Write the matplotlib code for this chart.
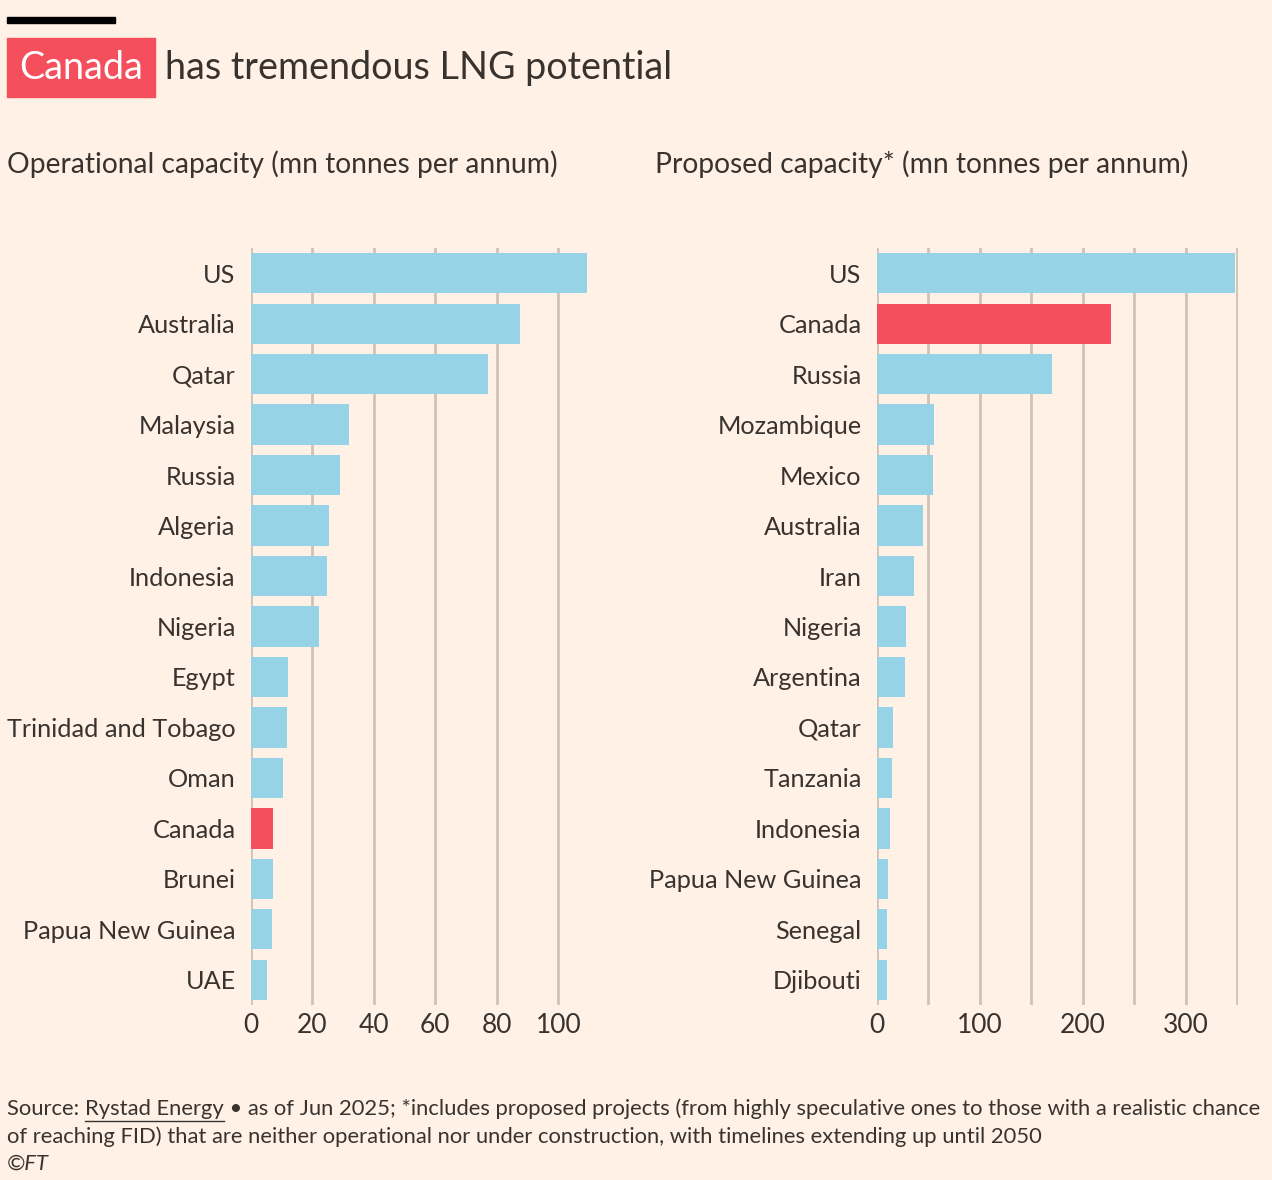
import matplotlib
matplotlib.use("Agg")
import matplotlib.pyplot as plt
from matplotlib.patches import Rectangle
from matplotlib.lines import Line2D

# ====== DATA ======
op_countries = ["US", "Australia", "Qatar", "Malaysia", "Russia", "Algeria", "Indonesia",
                "Nigeria", "Egypt", "Trinidad and Tobago", "Oman", "Canada", "Brunei",
                "Papua New Guinea", "UAE"]
op_values = [109.4, 87.6, 77.2, 31.9, 29.0, 25.4, 24.8, 22.1, 12.0, 11.7, 10.4, 7.2, 7.2, 6.8, 5.2]

prop_countries = ["US", "Canada", "Russia", "Mozambique", "Mexico", "Australia", "Iran",
                  "Nigeria", "Argentina", "Qatar", "Tanzania", "Indonesia",
                  "Papua New Guinea", "Senegal", "Djibouti"]
prop_values = [347.6, 227.0, 170.0, 55.3, 54.4, 44.7, 36.0, 28.0, 27.0, 15.5, 14.6, 12.6, 10.7, 9.7, 9.7]

op_ticks = [0, 20, 40, 60, 80, 100]
prop_ticks = [0, 100, 200, 300]
prop_grid = [0, 50, 100, 150, 200, 250, 300, 350]

title_highlight = "Canada"
title_rest = "has tremendous LNG potential"
sub_left = "Operational capacity (mn tonnes per annum)"
sub_right = "Proposed capacity* (mn tonnes per annum)"
note_1a = "Source: "
note_1b = "Rystad Energy"
note_1c = " \u2022 as of Jun 2025; *includes proposed projects (from highly speculative ones to those with a realistic chance"
note_2 = "of reaching FID) that are neither operational nor under construction, with timelines extending up until 2050"
note_3 = "\u00a9FT"

# ====== STYLE ======
BG = "#FFF1E5"
BLUE = "#96D3E6"
RED = "#F54E5C"
GRID = "#CFC2B6"
TEXT = "#38332F"
plt.rcParams["font.family"] = ["Lato", "DejaVu Sans"]

W, H = 1272, 1180
fig = plt.figure(figsize=(W / 100, H / 100), dpi=100, facecolor=BG)


def fx(px):
    return px / W


def fy(py):
    return 1 - py / H


def draw_panel(ax, names, values, xmax, ticks, grid):
    colors = [RED if n == "Canada" else BLUE for n in names]
    ax.set_facecolor(BG)
    for g in grid:
        ax.axvline(g, color=GRID, lw=2, zorder=0)
    ax.barh(range(len(names)), values, height=0.8, color=colors, zorder=2)
    ax.set_xlim(0, xmax)
    ax.set_ylim(len(names) - 0.5, -0.5)
    ax.set_yticks(range(len(names)))
    ax.set_yticklabels(names, fontsize=18.2, color=TEXT)
    ax.set_xticks(ticks)
    ax.set_xticklabels([str(t) for t in ticks], fontsize=19, color=TEXT)
    ax.tick_params(length=0, pad=6)
    ax.tick_params(axis="y", pad=11)
    for s in ax.spines.values():
        s.set_visible(False)


ax1 = fig.add_axes([fx(251), fy(1005), fx(338), (1005 - 248) / H])
draw_panel(ax1, op_countries, op_values, 110, op_ticks, op_ticks)

ax2 = fig.add_axes([fx(877), fy(1005), fx(361), (1005 - 248) / H])
draw_panel(ax2, prop_countries, prop_values, 350.5, prop_ticks, prop_grid)

# header bar
fig.patches.append(Rectangle((fx(7), fy(23)), fx(108), 6 / H, transform=fig.transFigure,
                             color="black", zorder=5))
# title with highlighted box
fig.patches.append(Rectangle((fx(7), fy(97)), fx(148), 59 / H, transform=fig.transFigure,
                             color=RED, zorder=5))
fig.text(fx(81), fy(68), title_highlight, color="white", fontsize=27.2, ha="center", va="center",
         zorder=6)
fig.text(fx(165), fy(68), title_rest, color=TEXT, fontsize=27.2, ha="left", va="center")

fig.text(fx(7), fy(164), sub_left, color=TEXT, fontsize=20.3, ha="left", va="center")
fig.text(fx(655), fy(164), sub_right, color=TEXT, fontsize=20.3, ha="left", va="center")

# footnote
fs = 15.8
t1 = fig.text(fx(7), fy(1109), note_1a, color=TEXT, fontsize=fs, ha="left", va="center")
fig.canvas.draw()
r = fig.canvas.get_renderer()
bb = t1.get_window_extent(r)
t2 = fig.text(bb.x1 / W, fy(1109), note_1b, color=TEXT, fontsize=fs, ha="left", va="center")
bb2 = t2.get_window_extent(r)
fig.lines.append(Line2D([bb2.x0 / W, bb2.x1 / W], [fy(1121), fy(1121)], transform=fig.transFigure,
                        color=TEXT, lw=1))
fig.text(bb2.x1 / W, fy(1109), note_1c, color=TEXT, fontsize=fs, ha="left", va="center")
fig.text(fx(7), fy(1137), note_2, color=TEXT, fontsize=fs, ha="left", va="center")
fig.text(fx(7), fy(1164), note_3, color=TEXT, fontsize=fs, ha="left", va="center", style="italic")

fig.savefig("out.png", dpi=100, facecolor=BG)
